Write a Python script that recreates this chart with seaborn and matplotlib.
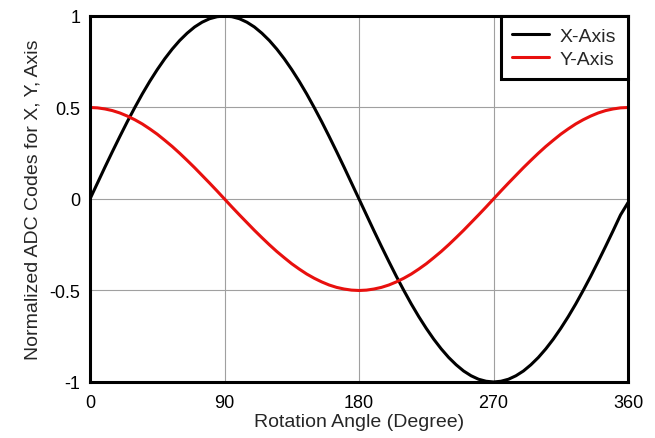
import pandas as pd
import matplotlib.pyplot as plt
import seaborn as sns

# angles read every 5 degrees
angles = list(range(0, 361, 5))
x_axis = [0.0, 0.087, 0.174, 0.259, 0.342, 0.423, 0.5, 0.574, 0.643, 0.707,
          0.766, 0.819, 0.866, 0.906, 0.94, 0.966, 0.985, 0.996, 1.0,
          0.996, 0.985, 0.966, 0.94, 0.906, 0.866, 0.819, 0.766, 0.707,
          0.643, 0.574, 0.5, 0.423, 0.342, 0.259, 0.174, 0.087, 0.0,
          -0.087, -0.174, -0.259, -0.342, -0.423, -0.5, -0.574, -0.643, -0.707,
          -0.766, -0.819, -0.866, -0.906, -0.94, -0.966, -0.985, -0.996, -1.0,
          -0.996, -0.985, -0.966, -0.94, -0.906, -0.866, -0.819, -0.766, -0.707,
          -0.643, -0.574, -0.5, -0.423, -0.342, -0.259, -0.174, -0.087, -0.02]
y_axis = [0.5, 0.498, 0.492, 0.483, 0.47, 0.453, 0.433, 0.41, 0.383, 0.354,
          0.321, 0.287, 0.25, 0.211, 0.171, 0.129, 0.087, 0.044, 0.0,
          -0.044, -0.087, -0.129, -0.171, -0.211, -0.25, -0.287, -0.321, -0.354,
          -0.383, -0.41, -0.433, -0.453, -0.47, -0.483, -0.492, -0.498, -0.5,
          -0.498, -0.492, -0.483, -0.47, -0.453, -0.433, -0.41, -0.383, -0.354,
          -0.321, -0.287, -0.25, -0.211, -0.171, -0.129, -0.087, -0.044, 0.0,
          0.044, 0.087, 0.129, 0.171, 0.211, 0.25, 0.287, 0.321, 0.354,
          0.383, 0.41, 0.433, 0.453, 0.47, 0.483, 0.492, 0.498, 0.5]
series_names = ['X-Axis', 'Y-Axis']
colors = ['black', '#e8100e']

sns.set_theme(style='white')
plt.rcParams['font.family'] = ['Liberation Sans', 'DejaVu Sans']
plt.rcParams['axes.unicode_minus'] = False

df = pd.DataFrame({
    'angle': angles * 2,
    'value': x_axis + y_axis,
    'series': [series_names[0]] * len(angles) + [series_names[1]] * len(angles),
})

fig, ax = plt.subplots(figsize=(6.55, 4.39), dpi=100)
sns.lineplot(data=df, x='angle', y='value', hue='series',
             palette=dict(zip(series_names, colors)), linewidth=2.2, ax=ax)

ax.set_xlim(0, 360)
ax.set_ylim(-1, 1)
ax.set_xticks([0, 90, 180, 270, 360])
ax.set_yticks([-1, -0.5, 0, 0.5, 1])
ax.set_yticklabels(['-1', '-0.5', '0', '0.5', '1'])
ax.grid(True, color='#a0a0a0', linewidth=0.8)
ax.tick_params(length=0, labelsize=13, colors='black')
ax.tick_params(axis='x', pad=9)
ax.tick_params(axis='y', pad=7)
for s in ax.spines.values():
    s.set_color('black')
    s.set_linewidth(2.2)
ax.set_xlabel('Rotation Angle (Degree)', fontsize=14, labelpad=1)
ax.set_ylabel('Normalized ADC Codes for X, Y, Axis', fontsize=14, labelpad=6)

leg = ax.legend(loc='upper right', borderaxespad=0, fancybox=False,
                framealpha=1, fontsize=14, title=None,
                handlelength=1.9, labelspacing=0.25, borderpad=0.6,
                handletextpad=0.55)
leg.get_frame().set_edgecolor('black')
leg.get_frame().set_linewidth(2.2)

fig.subplots_adjust(left=0.1374, right=0.9588, top=0.9613, bottom=0.1276)
plt.savefig('out.png', dpi=100)
